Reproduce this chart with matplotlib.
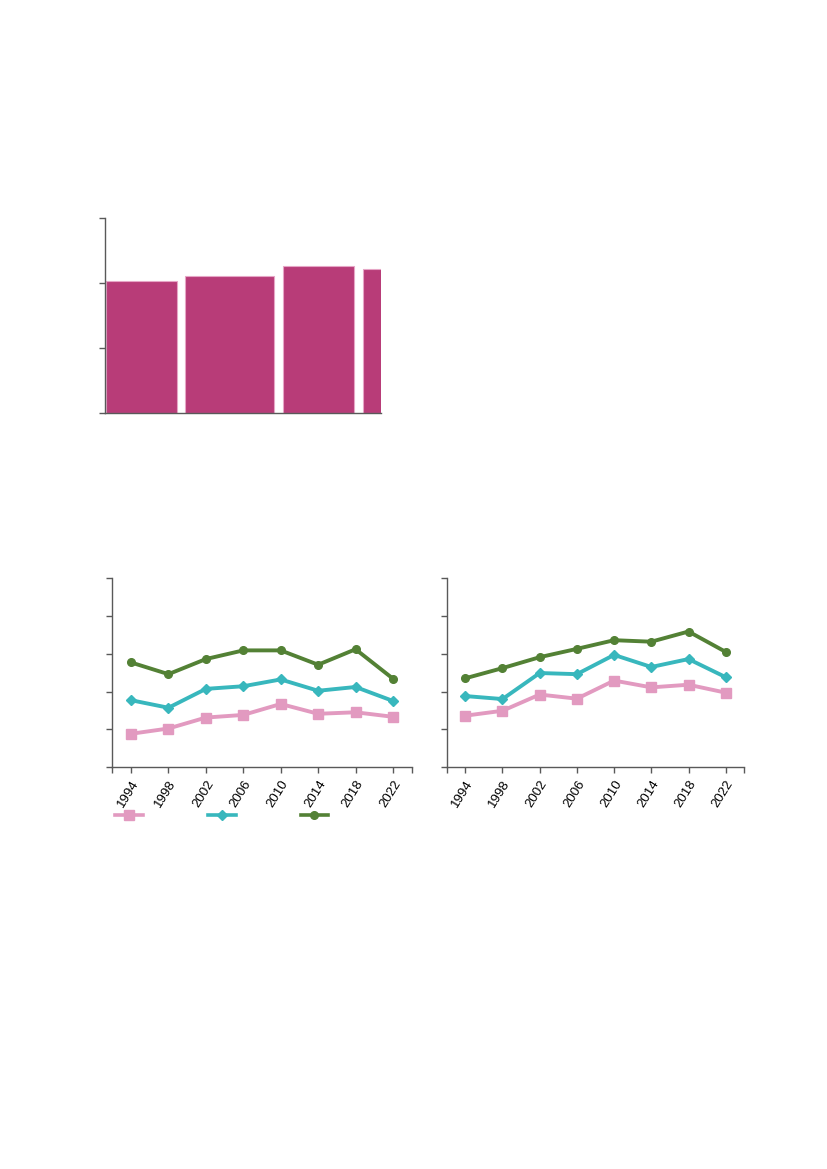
import matplotlib
matplotlib.use("Agg")
import matplotlib.pyplot as plt
from matplotlib.lines import Line2D

plt.rcParams['font.family'] = ['Liberation Sans', 'DejaVu Sans']

# ---- data ----
bar_values = [2.04, 2.11, 2.26, 2.215]

years = ['1994', '1998', '2002', '2006', '2010', '2014', '2018', '2022']

left_green = [2.77, 2.46, 2.86, 3.09, 3.09, 2.71, 3.12, 2.34]
left_teal = [1.77, 1.57, 2.07, 2.14, 2.32, 2.02, 2.12, 1.75]
left_pink = [0.88, 1.02, 1.31, 1.38, 1.67, 1.41, 1.45, 1.33]

right_green = [2.35, 2.62, 2.91, 3.13, 3.36, 3.32, 3.59, 3.05]
right_teal = [1.88, 1.80, 2.49, 2.46, 2.97, 2.65, 2.86, 2.38]
right_pink = [1.36, 1.49, 1.92, 1.81, 2.29, 2.11, 2.18, 1.97]

# ---- layout / style ----
W, H = 827, 1169
fig = plt.figure(figsize=(W / 100, H / 100), dpi=100)

SPINE = '#595959'
BAR_C = '#B83C78'
PINK = '#E29AC0'
TEAL = '#38B7BD'
GREEN = '#538135'

def ax_rect(x0, y0, x1, y1):
    return [x0 / W, 1 - y1 / H, (x1 - x0) / W, (y1 - y0) / H]

def style_axes(ax):
    for s in ['top', 'right']:
        ax.spines[s].set_visible(False)
    for s in ['left', 'bottom']:
        ax.spines[s].set_color(SPINE)
        ax.spines[s].set_linewidth(1.0)
    ax.tick_params(axis='both', direction='out', color=SPINE, length=4, width=1.0)

# bar chart
axb = fig.add_axes(ax_rect(105, 218.3, 381, 413.3))
bar_lefts = [0.7, 80.3, 178, 258]
bar_widths = [71, 89, 71.3, 40]
axb.bar(bar_lefts, bar_values, width=bar_widths, align='edge', color=BAR_C,
        edgecolor='#E6A6C6', linewidth=0.8)
axb.set_xlim(0, 276)
axb.set_ylim(0, 3)
axb.set_yticks([0, 1, 2, 3])
axb.set_yticklabels([])
axb.set_xticks([])
style_axes(axb)

def line_chart(rect, pink, teal, green):
    ax = fig.add_axes(rect)
    x = list(range(len(years)))
    ax.plot(x, pink, color=PINK, lw=2.8, marker='s', ms=7.5, mec=PINK, mfc=PINK)
    ax.plot(x, teal, color=TEAL, lw=2.8, marker='D', ms=5.5, mec=TEAL, mfc=TEAL)
    ax.plot(x, green, color=GREEN, lw=2.8, marker='o', ms=5.5, mec=GREEN, mfc=GREEN)
    ax.set_xlim(-0.5, len(years) - 0.5)
    ax.set_ylim(0, 5)
    ax.set_yticks([0, 1, 2, 3, 4, 5])
    ax.set_yticklabels([])
    ax.set_xticks(x)
    ax.set_xticklabels(years, rotation=58, ha='right', rotation_mode='anchor',
                       fontsize=9.5)
    ax.set_xticks([-0.5, len(years) - 0.5], minor=True)
    style_axes(ax)
    ax.tick_params(axis='x', which='minor', direction='out', color=SPINE,
                   length=4, width=1.0)
    ax.tick_params(axis='x', pad=4)
    return ax

axl = line_chart(ax_rect(112.3, 578.3, 411.7, 767), left_pink, left_teal, left_green)
axr = line_chart(ax_rect(446.7, 578.3, 744.3, 767), right_pink, right_teal, right_green)

handles = [
    Line2D([], [], color=PINK, lw=2.6, marker='s', ms=7.5, mec=PINK, mfc=PINK),
    Line2D([], [], color=TEAL, lw=2.6, marker='D', ms=5.5, mec=TEAL, mfc=TEAL),
    Line2D([], [], color=GREEN, lw=2.6, marker='o', ms=5.5, mec=GREEN, mfc=GREEN),
]
fig.legend(handles, ['', '', ''], ncol=3, loc='center left',
           bbox_to_anchor=(115 / W, 1 - 816 / H), frameon=False,
           handlelength=2.0, handletextpad=0.0, columnspacing=4.68,
           fontsize=10, borderaxespad=0, borderpad=0)

fig.savefig('out.png', dpi=100)
